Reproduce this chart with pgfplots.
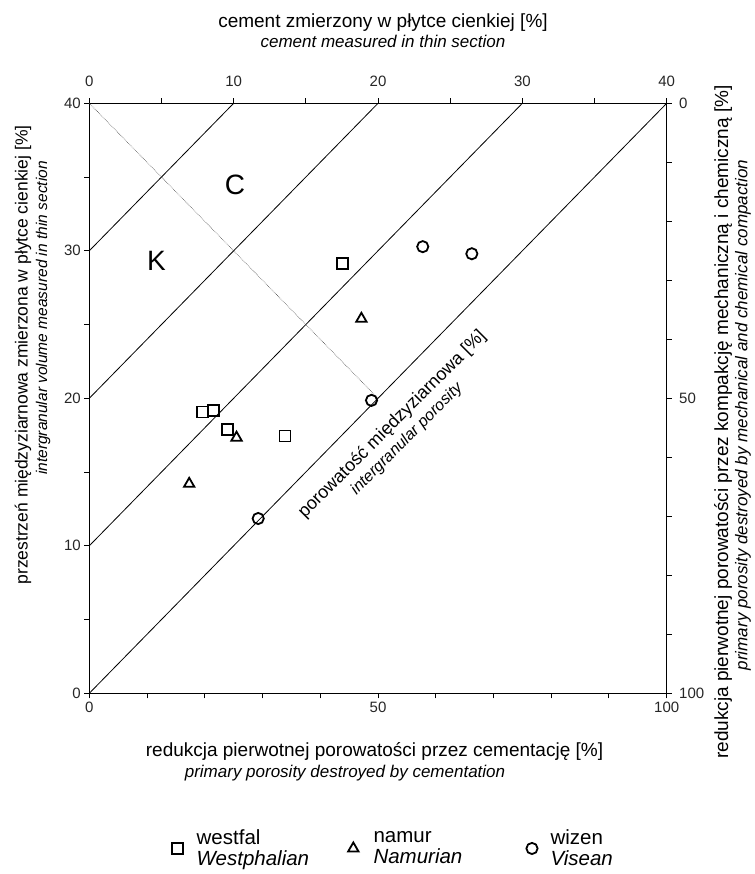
\documentclass[border=0pt]{standalone}
\usepackage{fontspec}
\setmainfont{Liberation Sans}
\usepackage{pgfplots}
\pgfplotsset{compat=1.18}
\begin{document}
\begin{tikzpicture}[x=1pt,y=1pt]
\useasboundingbox (-89.3,-180.7) rectangle (664.7,693.3);
% secondary axis: bottom (cementation) and right (compaction)
\begin{axis}[
  at={(0,0)}, anchor=south west, scale only axis,
  width=577.4pt, height=590pt,
  xmin=0, xmax=100, ymin=0, ymax=100, y dir=reverse,
  xtick={0,50,100}, minor xtick={10,20,30,40,60,70,80,90},
  ytick={0,50,100}, minor ytick={10,20,30,40,60,70,80,90},
  xtick pos=bottom, xticklabel pos=bottom,
  ytick pos=right, yticklabel pos=right,
  tick align=outside, major tick length=5pt, minor tick length=5pt,
  axis line style={line width=1.2pt},
  every tick/.style={black, line width=1pt},
  /pgf/number format/assume math mode=true,
  ticklabel style={font=\fontsize{15}{15}\selectfont, text=black!85},
  yticklabel style={xshift=4pt},
]
\addplot[draw=none] coordinates {(0,0) (100,100)};
\end{axis}
% main axis: top (cement) and left (intergranular volume)
\begin{axis}[
  at={(0,0)}, anchor=south west, scale only axis,
  width=577.4pt, height=590pt,
  xmin=0, xmax=40, ymin=0, ymax=40,
  xtick={0,10,...,40}, minor xtick={5,15,25,35},
  ytick={0,10,...,40}, minor ytick={5,15,25,35},
  xtick pos=top, xticklabel pos=top,
  ytick pos=left, yticklabel pos=left,
  tick align=outside, major tick length=5pt, minor tick length=5pt,
  axis line style={line width=1.2pt},
  every tick/.style={black, line width=1pt},
  /pgf/number format/assume math mode=true,
  ticklabel style={font=\fontsize{15}{15}\selectfont, text=black!85},
  xticklabel style={yshift=8pt},
  clip=false,
  legend columns=3,
  legend cell align=left,
  legend image code/.code={\draw[mark repeat=2,mark phase=2] plot coordinates {(0pt,0pt) (6pt,0pt) (12pt,0pt)};},
  legend style={at={(0.1427,-0.263)}, anchor=west, draw=none, fill=none,
    inner sep=0pt, outer sep=0pt,
    nodes={inner sep=0pt},
    font=\fontsize{20.5}{21}\selectfont, cells={align=left},
    /tikz/column 1/.style={column sep=14pt},
    /tikz/column 2/.style={column sep=39pt},
    /tikz/column 3/.style={column sep=15pt},
    /tikz/column 4/.style={column sep=64pt},
    /tikz/column 5/.style={column sep=13pt}},
]
% porosity isolines
\addplot[black, line width=0.8pt, forget plot] coordinates {(0,30) (10,40)};
\addplot[black, line width=0.8pt, forget plot] coordinates {(0,20) (20,40)};
\addplot[black, line width=0.8pt, forget plot] coordinates {(0,10) (30,40)};
\addplot[black, line width=0.8pt, forget plot] coordinates {(0,0) (40,40)};
\addplot[black!70, densely dotted, line width=0.6pt, forget plot] coordinates {(0,40) (20,20)};
% data
\addplot[only marks, mark=square, mark size=5.5pt, line width=1.8pt, black] coordinates {
 (7.85,19.07) (8.6,19.18) (9.58,17.87) (13.56,17.44) (17.54,29.15)};
\addlegendentry{westfal\\\textit{Westphalian}}
\addplot[only marks, mark=triangle, mark size=6pt, line width=1.8pt, black] coordinates {
 (6.92,14.2) (10.2,17.33) (18.85,25.39)};
\addlegendentry{namur\\\textit{Namurian}}
\addplot[only marks, mark=o, mark size=5.6pt, line width=1.8pt, black] coordinates {
 (11.7,11.85) (19.55,19.86) (23.1,30.28) (26.5,29.8)};
\addlegendentry{wizen\\\textit{Visean}}
\node[font=\fontsize{28}{28}\selectfont] at (axis cs:10.1,34.5) {C};
\node[font=\fontsize{28}{28}\selectfont] at (axis cs:4.66,29.3) {K};
\node[rotate=45, align=center, font=\fontsize{18}{20}\selectfont] at (axis cs:21.47,17.75)
  {porowatość międzyziarnowa [\%]\\{\fontsize{16}{18}\selectfont\itshape intergranular porosity}};
\end{axis}
% axis titles
\node[font=\fontsize{19}{19}\selectfont] at (293.7,670.3) {cement zmierzony w płytce cienkiej [\%]};
\node[font=\fontsize{17}{17}\selectfont\itshape] at (293.7,652.3) {cement measured in thin section};
\node[font=\fontsize{19}{19}\selectfont] at (285.2,-57.7) {redukcja pierwotnej porowatości przez cementację [\%]};
\node[font=\fontsize{17}{17}\selectfont\itshape] at (255.7,-79.7) {primary porosity destroyed by cementation};
\node[rotate=90, font=\fontsize{17.5}{17.5}\selectfont] at (-66.3,338.3) {przestrzeń międzyziarnowa zmierzona w płytce cienkiej [\%]};
\node[rotate=90, font=\fontsize{15.5}{15.5}\selectfont\itshape] at (-46.3,375.3) {intergranular volume measured in thin section};
\node[rotate=90, font=\fontsize{19}{19}\selectfont] at (633.7,271.3) {redukcja pierwotnej porowatości przez kompakcję mechaniczną i chemiczną [\%]};
\node[rotate=90, font=\fontsize{17}{17}\selectfont\itshape] at (653.7,278.3) {primary porosity destroyed by mechanical and chemical compaction};
\end{tikzpicture}
\end{document}
